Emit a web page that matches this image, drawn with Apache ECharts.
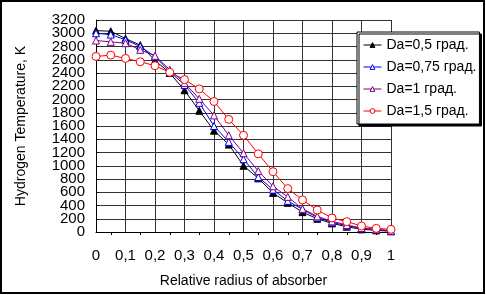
<!DOCTYPE html>
<html>
<head>
<meta charset="utf-8">
<script src="https://cdn.jsdelivr.net/npm/echarts@6/dist/echarts.min.js"></script>
<style>
html,body{margin:0;padding:0;background:#fff;}
#chart{width:486px;height:295px;}
</style>
</head>
<body>
<div id="chart"></div>
<script>
const xValues = [0,0.05,0.1,0.15,0.2,0.25,0.3,0.35,0.4,0.45,0.5,0.55,0.6,0.65,0.7,0.75,0.8,0.85,0.9,0.95,1];
const seriesNames = ['Da=0,5 град.','Da=0,75 град.','Da=1 град.','Da=1,5 град.'];
const da05 = [3040,3030,2920,2820,2590,2400,2140,1830,1530,1320,1000,810,590,440,300,200,130,80,40,25,10];
const da075 = [3000,2980,2900,2800,2650,2420,2220,1950,1600,1360,1100,830,640,470,340,220,146,96,55,40,15];
const da1 = [2890,2870,2850,2750,2660,2450,2250,2010,1760,1460,1190,920,690,530,350,237,161,106,60,40,20];
const da15 = [2650,2670,2620,2570,2510,2410,2300,2160,1970,1700,1460,1180,910,655,484,332,212,156,91,55,40];
const yTicks = [0,200,400,600,800,1000,1200,1400,1600,1800,2000,2200,2400,2600,2800,3000,3200];

const font = 'Liberation Sans, Arial, sans-serif';
const colors = ['#000000','#0000ff','#800080','#ff0000'];
const fills = ['#000000','#ffffff','#ffffff','#ffffff'];
const chart = echarts.init(document.getElementById('chart'), null, {renderer:'canvas'});

function mk(name, data, color, symbol, fill, size){
  return {
    name: name, type:'line', yAxisIndex:0,
    data: xValues.map((x,i)=>[x,data[i]]),
    symbol: symbol, symbolSize: size,
    showAllSymbol: true,
    lineStyle:{color:color,width:1},
    itemStyle:{color:fill,borderColor:color,borderWidth:1},
    emphasis:{disabled:true},
    animation:false
  };
}

const yLabelStyle = {fontFamily:font,fontSize:15,color:'#000',margin:11};

chart.setOption({
  animation:false,
  backgroundColor:'#fff',
  textStyle:{fontFamily:font},
  grid:{left:96,right:95,top:20,bottom:63,containLabel:false},
  legend:{
    orient:'vertical',
    left:357, top:32,
    padding:[6,3,6,6],
    itemWidth:18, itemHeight:6, itemGap:8,
    backgroundColor:'#fff',
    borderColor:'#000', borderWidth:1,
    shadowColor:'#000', shadowOffsetX:2, shadowOffsetY:2, shadowBlur:0,
    textStyle:{fontFamily:font,fontSize:14,color:'#000'},
    data: seriesNames.map((n,i)=>({name:n,itemStyle:{color:fills[i],borderColor:colors[i],borderWidth:1},lineStyle:{color:colors[i],width:1}}))
  },
  xAxis:{
    type:'value', min:0, max:1, interval:0.1,
    name:'Relative radius of absorber',
    nameLocation:'middle', nameGap:42,
    nameTextStyle:{fontFamily:font,fontSize:14,color:'#000'},
    axisLine:{show:true,lineStyle:{color:'#000',width:1}},
    axisTick:{show:false},
    minorTick:{show:true,splitNumber:2,length:3,lineStyle:{color:'#000'}},
    axisLabel:{fontFamily:font,fontSize:15,color:'#000',margin:16,
      showMinLabel:true, showMaxLabel:true,
      formatter:v=>String(Math.round(v*10)/10).replace('.',',')},
    splitLine:{show:true,lineStyle:{color:'#333',width:1}}
  },
  yAxis:[{
    type:'value', min:0, max:3200, interval:400, position:'left',
    name:'Hydrogen Temperature, K',
    nameLocation:'middle', nameGap:68, nameRotate:90,
    nameTextStyle:{fontFamily:font,fontSize:14,color:'#000'},
    axisLine:{show:true,lineStyle:{color:'#000',width:1}},
    axisTick:{show:false},
    axisLabel:Object.assign({showMinLabel:true,showMaxLabel:true,
      formatter:v=>yTicks.includes(v)?String(v):''}, yLabelStyle),
    splitLine:{show:false}
  },{
    type:'value', min:0, max:3200, interval:200, position:'left', offset:0,
    axisLine:{show:false},
    axisTick:{show:true,inside:true,length:3,lineStyle:{color:'#000'}},
    axisLabel:Object.assign({
      formatter:v=>(yTicks.includes(v) && v%400===200)?String(v):''}, yLabelStyle),
    splitLine:{show:true,lineStyle:{color:'#333',width:1}}
  }],
  series:[
    mk(seriesNames[0], da05, colors[0], 'triangle', fills[0], 7),
    mk(seriesNames[1], da075, colors[1], 'triangle', fills[1], 7),
    mk(seriesNames[2], da1, colors[2], 'triangle', fills[2], 7),
    mk(seriesNames[3], da15, colors[3], 'circle', fills[3], 8)
  ],
  graphic:[{
    type:'rect', silent:true, z:-1,
    shape:{x:1,y:1,width:483,height:292},
    style:{fill:null,stroke:'#000',lineWidth:2}
  }]
});
</script>
</body>
</html>
